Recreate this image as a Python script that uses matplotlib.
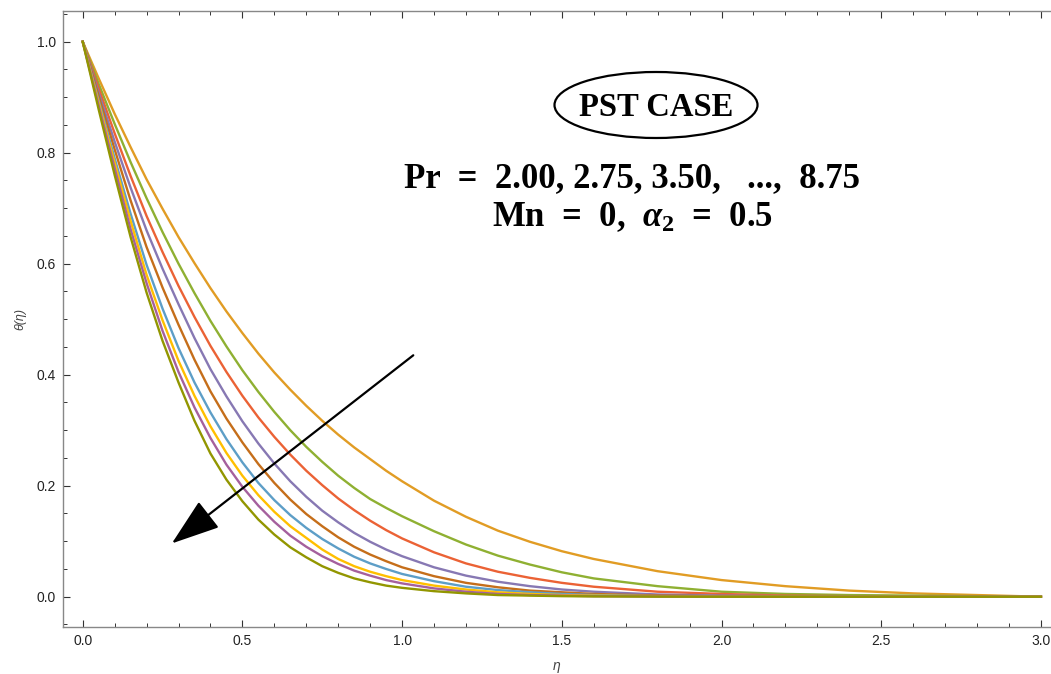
import matplotlib
matplotlib.use("Agg")
import matplotlib.pyplot as plt
from matplotlib.patches import Ellipse
from matplotlib.ticker import MultipleLocator, FormatStrFormatter

# ---- data ----
eta = [0.0, 0.05, 0.1, 0.15, 0.2, 0.25, 0.3, 0.35, 0.4, 0.45, 0.5, 0.55, 0.6,
       0.65, 0.7, 0.75, 0.8, 0.85, 0.9, 0.95, 1.0,
       1.1, 1.2, 1.3, 1.4, 1.5, 1.6, 1.8, 2.0, 2.2, 2.4, 2.6, 2.8, 3.0]

theta_orange = [1.000, 0.934, 0.870, 0.810, 0.752, 0.699, 0.648, 0.601, 0.556, 0.514,
                0.475, 0.438, 0.404, 0.373, 0.344, 0.317, 0.292, 0.269, 0.248, 0.227,
                0.208,
                0.173, 0.144, 0.119, 0.099, 0.082, 0.068, 0.046, 0.030, 0.019,
                0.011, 0.006, 0.003, 0.000]
theta_green = [1.000, 0.924, 0.852, 0.783, 0.718, 0.657, 0.600, 0.547, 0.497, 0.451,
               0.408, 0.369, 0.333, 0.300, 0.270, 0.243, 0.218, 0.196, 0.176, 0.160,
               0.145,
               0.118, 0.094, 0.074, 0.058, 0.044, 0.033, 0.019, 0.009, 0.005,
               0.003, 0.002, 0.001, 0.000]
theta_red = [1.000, 0.916, 0.835, 0.758, 0.686, 0.621, 0.560, 0.504, 0.452, 0.405,
             0.362, 0.323, 0.288, 0.256, 0.227, 0.201, 0.177, 0.156, 0.137, 0.120,
             0.105,
             0.080, 0.060, 0.045, 0.034, 0.025, 0.018, 0.009, 0.005, 0.002,
             0.001, 0.0005, 0.0002, 0.000]
theta_purple = [1.000, 0.908, 0.820, 0.737, 0.660, 0.591, 0.527, 0.466, 0.410, 0.361,
                0.316, 0.276, 0.240, 0.208, 0.180, 0.155, 0.134, 0.115, 0.099, 0.085,
                0.073,
                0.053, 0.038, 0.027, 0.019, 0.013, 0.009, 0.004, 0.002, 0.001,
                0.0005, 0.0002, 0.0001, 0.000]
theta_brown = [1.000, 0.902, 0.806, 0.714, 0.630, 0.557, 0.490, 0.427, 0.370, 0.321,
               0.278, 0.239, 0.205, 0.175, 0.149, 0.127, 0.107, 0.090, 0.076, 0.064,
               0.053,
               0.037, 0.025, 0.017, 0.011, 0.008, 0.005, 0.002, 0.001, 0.0005,
               0.0002, 0.0001, 0.0, 0.000]
theta_blue = [1.000, 0.894, 0.790, 0.690, 0.598, 0.519, 0.448, 0.386, 0.332, 0.284,
              0.242, 0.205, 0.174, 0.147, 0.124, 0.104, 0.087, 0.072, 0.060, 0.050,
              0.041,
              0.028, 0.018, 0.012, 0.008, 0.005, 0.003, 0.001, 0.0005, 0.0002,
              0.0001, 0.0, 0.0, 0.000]
theta_yellow = [1.000, 0.890, 0.782, 0.677, 0.580, 0.498, 0.425, 0.362, 0.307, 0.259,
                0.218, 0.183, 0.153, 0.127, 0.106, 0.085, 0.068, 0.055, 0.045, 0.037,
                0.030,
                0.020, 0.013, 0.008, 0.005, 0.003, 0.002, 0.001, 0.0003, 0.0001,
                0.0, 0.0, 0.0, 0.000]
theta_magenta = [1.000, 0.885, 0.772, 0.662, 0.565, 0.479, 0.405, 0.341, 0.286, 0.238,
                 0.198, 0.164, 0.135, 0.110, 0.090, 0.073, 0.059, 0.047, 0.038, 0.030,
                 0.024,
                 0.015, 0.009, 0.005, 0.003, 0.002, 0.001, 0.0005, 0.0002, 0.0,
                 0.0, 0.0, 0.0, 0.000]
theta_olive = [1.000, 0.878, 0.760, 0.648, 0.548, 0.461, 0.386, 0.317, 0.258, 0.211,
               0.172, 0.139, 0.112, 0.089, 0.071, 0.055, 0.043, 0.033, 0.026, 0.020,
               0.016,
               0.010, 0.006, 0.003, 0.002, 0.001, 0.0005, 0.0002, 0.0, 0.0,
               0.0, 0.0, 0.0, 0.000]

series = [theta_orange, theta_green, theta_red, theta_purple, theta_brown,
          theta_blue, theta_yellow, theta_magenta, theta_olive]
colors = ["#E19C24", "#8FB032", "#EB6235", "#8778B3", "#C56E1A",
          "#5D9EC7", "#FFBF00", "#A5609D", "#929600"]

# ---- figure ----
plt.rcParams["mathtext.fontset"] = "custom"
plt.rcParams["mathtext.rm"] = "Liberation Serif:bold"
plt.rcParams["mathtext.it"] = "Liberation Serif:bold:italic"
plt.rcParams["mathtext.bf"] = "Liberation Serif:bold"

fig = plt.figure(figsize=(10.51, 6.74), dpi=100)
ax = fig.add_axes([62.7 / 1051, 1 - 627.3 / 674, 1 - 62.7 / 1051, (627.3 - 11) / 674])

for ys, c in zip(series, colors):
    ax.plot(eta, ys, color=c, lw=1.7, solid_joinstyle="round")

ax.set_xlim(-0.0626, 3.0316)
ax.set_ylim(-0.0551, 1.0553)

spine_col = "#888888"
for side in ["left", "bottom", "top"]:
    ax.spines[side].set_color(spine_col)
    ax.spines[side].set_linewidth(1.0)
ax.spines["right"].set_visible(False)

ax.xaxis.set_major_locator(MultipleLocator(0.5))
ax.xaxis.set_minor_locator(MultipleLocator(0.1))
ax.yaxis.set_major_locator(MultipleLocator(0.2))
ax.yaxis.set_minor_locator(MultipleLocator(0.05))
ax.tick_params(which="both", direction="in", top=True, right=False,
               colors="#333333", labelcolor="#222222", labelsize=10)
ax.tick_params(which="major", length=5, width=0.8, pad=5)
ax.tick_params(which="minor", length=3, width=0.7)
ax.xaxis.set_major_formatter(FormatStrFormatter("%.1f"))
ax.yaxis.set_major_formatter(FormatStrFormatter("%.1f"))
for lab in ax.get_xticklabels() + ax.get_yticklabels():
    lab.set_fontfamily("Liberation Sans")

ax.set_xlabel("η", fontsize=10, color="#444444", labelpad=8,
              fontfamily="Liberation Sans", fontstyle="italic")
ax.set_ylabel("θ(η)", fontsize=9, color="#444444", labelpad=7,
              fontfamily="Liberation Sans", fontstyle="italic")

# annotations
ax.annotate("", xy=(0.279, 0.096), xytext=(1.035, 0.435),
            arrowprops=dict(arrowstyle="-|>,head_length=1.6,head_width=0.55",
                            mutation_scale=19, lw=1.6, color="black",
                            shrinkA=0, shrinkB=0))

ell_cx = (656 - 82.7) / 319.4
ell_cy = (596.7 - 105) / 555
ax.add_patch(Ellipse((ell_cx, ell_cy), 203 / 319.4, 66 / 555, fill=False,
                     edgecolor="black", lw=1.6))
ax.text(ell_cx, (596.7 - 108) / 555, "PST CASE", ha="center", va="center",
        fontsize=23.5, fontweight="bold", fontfamily="Liberation Serif")

ax.text((631.5 - 82.7) / 319.4, (596.7 - 179) / 555,
        "Pr  =  2.00, 2.75, 3.50,   ...,  8.75", ha="center", va="center",
        fontsize=25, fontweight="bold", fontfamily="Liberation Serif")
ax.text((633 - 82.7) / 319.4, (596.7 - 217) / 555,
        r"Mn  =  0,  $\alpha_2$  =  0.5", ha="center", va="center",
        fontsize=25, fontweight="bold", fontfamily="Liberation Serif")

fig.savefig("out.png", dpi=100)
